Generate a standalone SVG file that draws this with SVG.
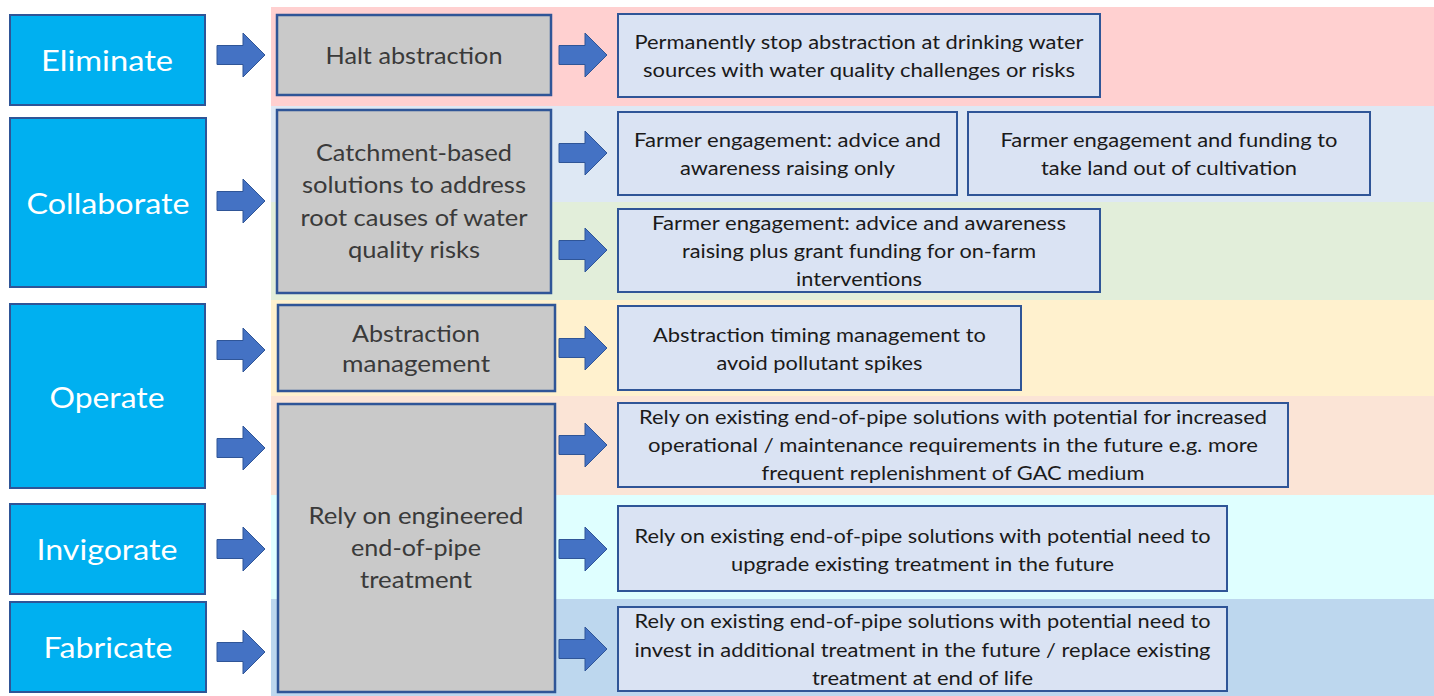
<svg xmlns="http://www.w3.org/2000/svg" width="1434" height="696" viewBox="0 0 1434 696">
<style>
.lbox{fill:#00B0F0;stroke:#2F5597;stroke-width:2}
.gbox{fill:#C9C9C9;stroke:#2F5597;stroke-width:2.5}
.rbox{fill:#DAE3F3;stroke:#2F5597;stroke-width:2}
.arr{fill:#4472C4;stroke:#2F5597;stroke-width:1}
text{font-family:Lato,"Open Sans","Liberation Sans",sans-serif;text-anchor:middle}
.lt{fill:#FFFFFF;font-size:28px}
.gt{fill:#3A3A3A;font-size:23px}
.rt{fill:#1A1A1A;font-size:19.5px}
</style>
<defs>
<path id="arrow" class="arr" d="M0,-9.5 H26 V-22 L48,0 L26,22 V9.5 H0 Z"/>
</defs>
<g id="bands">
<rect x="271" y="7" width="1163" height="99" fill="#FFD0D0"/>
<rect x="271" y="106" width="1163" height="96" fill="#DEE8F4"/>
<rect x="271" y="202" width="1163" height="98" fill="#E2EEDA"/>
<rect x="271" y="300" width="1163" height="96" fill="#FFF1CE"/>
<rect x="271" y="396" width="1163" height="99" fill="#FBE4D6"/>
<rect x="271" y="495" width="1163" height="104" fill="#DFFFFF"/>
<rect x="271" y="599" width="1163" height="97" fill="#BDD7EE"/>
</g>
<g id="connectors">
<use href="#arrow" x="217" y="55"/>
<use href="#arrow" x="217" y="201"/>
<use href="#arrow" x="217" y="350"/>
<use href="#arrow" x="217" y="448"/>
<use href="#arrow" x="217" y="549"/>
<use href="#arrow" x="217" y="652"/>
<use href="#arrow" x="559" y="55"/>
<use href="#arrow" x="559" y="153"/>
<use href="#arrow" x="559" y="250"/>
<use href="#arrow" x="559" y="348"/>
<use href="#arrow" x="559" y="445"/>
<use href="#arrow" x="559" y="549"/>
<use href="#arrow" x="559" y="649"/>
</g>
<g id="eliminate"><rect class="lbox" x="10" y="15" width="195" height="90"/><text class="lt" x="107" y="71" textLength="132" lengthAdjust="spacingAndGlyphs">Eliminate</text></g>
<g id="collaborate"><rect class="lbox" x="10" y="118" width="196" height="169"/><text class="lt" x="108" y="214" textLength="163" lengthAdjust="spacingAndGlyphs">Collaborate</text></g>
<g id="operate"><rect class="lbox" x="10" y="304" width="195" height="184"/><text class="lt" x="107" y="408" textLength="115" lengthAdjust="spacingAndGlyphs">Operate</text></g>
<g id="invigorate"><rect class="lbox" x="10" y="504" width="195" height="90"/><text class="lt" x="107" y="560" textLength="141" lengthAdjust="spacingAndGlyphs">Invigorate</text></g>
<g id="fabricate"><rect class="lbox" x="10" y="602" width="196" height="90"/><text class="lt" x="108" y="658" textLength="129" lengthAdjust="spacingAndGlyphs">Fabricate</text></g>
<g id="halt"><rect class="gbox" x="277" y="15" width="274" height="80"/><text class="gt" x="414" y="64" textLength="177" lengthAdjust="spacingAndGlyphs">Halt abstraction</text></g>
<g id="catchment"><rect class="gbox" x="277" y="110" width="274" height="183"/>
<text class="gt" x="414" y="161" textLength="196" lengthAdjust="spacingAndGlyphs">Catchment-based</text>
<text class="gt" x="414" y="193" textLength="224" lengthAdjust="spacingAndGlyphs">solutions to address</text>
<text class="gt" x="414" y="226" textLength="227" lengthAdjust="spacingAndGlyphs">root causes of water</text>
<text class="gt" x="414" y="258" textLength="132" lengthAdjust="spacingAndGlyphs">quality risks</text></g>
<g id="abstraction-management"><rect class="gbox" x="278" y="305" width="277" height="86"/>
<text class="gt" x="416" y="342" textLength="128" lengthAdjust="spacingAndGlyphs">Abstraction</text>
<text class="gt" x="416" y="372" textLength="148" lengthAdjust="spacingAndGlyphs">management</text></g>
<g id="engineered"><rect class="gbox" x="278" y="404" width="277" height="288"/>
<text class="gt" x="416" y="524" textLength="215" lengthAdjust="spacingAndGlyphs">Rely on engineered</text>
<text class="gt" x="416" y="556" textLength="130" lengthAdjust="spacingAndGlyphs">end-of-pipe</text>
<text class="gt" x="416" y="588" textLength="112" lengthAdjust="spacingAndGlyphs">treatment</text></g>
<g id="stop"><rect class="rbox" x="618" y="14" width="482" height="83"/>
<text class="rt" x="859" y="49" textLength="449" lengthAdjust="spacingAndGlyphs">Permanently stop abstraction at drinking water</text>
<text class="rt" x="859" y="77" textLength="432" lengthAdjust="spacingAndGlyphs">sources with water quality challenges or risks</text></g>
<g id="farmer-advice"><rect class="rbox" x="618" y="112" width="339" height="83"/>
<text class="rt" x="787.5" y="147" textLength="307" lengthAdjust="spacingAndGlyphs">Farmer engagement: advice and</text>
<text class="rt" x="787.5" y="175" textLength="215" lengthAdjust="spacingAndGlyphs">awareness raising only</text></g>
<g id="farmer-land"><rect class="rbox" x="968" y="112" width="402" height="83"/>
<text class="rt" x="1169" y="147" textLength="337" lengthAdjust="spacingAndGlyphs">Farmer engagement and funding to</text>
<text class="rt" x="1169" y="175" textLength="256" lengthAdjust="spacingAndGlyphs">take land out of cultivation</text></g>
<g id="farmer-grant"><rect class="rbox" x="618" y="209" width="482" height="83"/>
<text class="rt" x="859" y="230" textLength="414" lengthAdjust="spacingAndGlyphs">Farmer engagement: advice and awareness</text>
<text class="rt" x="859" y="258" textLength="354" lengthAdjust="spacingAndGlyphs">raising plus grant funding for on-farm</text>
<text class="rt" x="859" y="286" textLength="126" lengthAdjust="spacingAndGlyphs">interventions</text></g>
<g id="timing"><rect class="rbox" x="618" y="306" width="403" height="84"/>
<text class="rt" x="819.5" y="342" textLength="333" lengthAdjust="spacingAndGlyphs">Abstraction timing management to</text>
<text class="rt" x="819.5" y="370" textLength="206" lengthAdjust="spacingAndGlyphs">avoid pollutant spikes</text></g>
<g id="rely-operational"><rect class="rbox" x="618" y="403" width="670" height="84"/>
<text class="rt" x="953" y="424" textLength="628" lengthAdjust="spacingAndGlyphs">Rely on existing end-of-pipe solutions with potential for increased</text>
<text class="rt" x="953" y="452" textLength="610" lengthAdjust="spacingAndGlyphs">operational / maintenance requirements in the future e.g. more</text>
<text class="rt" x="953" y="480" textLength="383" lengthAdjust="spacingAndGlyphs">frequent replenishment of GAC medium</text></g>
<g id="rely-upgrade"><rect class="rbox" x="618" y="506" width="609" height="85"/>
<text class="rt" x="922.5" y="543" textLength="576" lengthAdjust="spacingAndGlyphs">Rely on existing end-of-pipe solutions with potential need to</text>
<text class="rt" x="922.5" y="571" textLength="383" lengthAdjust="spacingAndGlyphs">upgrade existing treatment in the future</text></g>
<g id="rely-invest"><rect class="rbox" x="618" y="607" width="609" height="84"/>
<text class="rt" x="922.5" y="628" textLength="576" lengthAdjust="spacingAndGlyphs">Rely on existing end-of-pipe solutions with potential need to</text>
<text class="rt" x="922.5" y="657" textLength="576" lengthAdjust="spacingAndGlyphs">invest in additional treatment in the future / replace existing</text>
<text class="rt" x="922.5" y="685" textLength="221" lengthAdjust="spacingAndGlyphs">treatment at end of life</text></g>
</svg>
